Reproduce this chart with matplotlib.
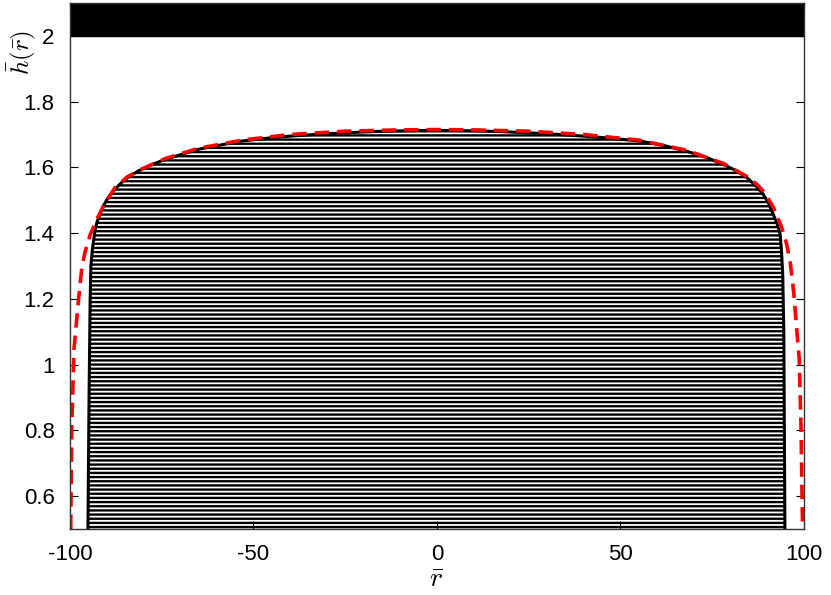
import numpy as np
import matplotlib
matplotlib.use("Agg")
import matplotlib.pyplot as plt

plt.rcParams['font.family'] = ['Liberation Sans', 'DejaVu Sans']
plt.rcParams['mathtext.fontset'] = 'cm'
plt.rcParams['axes.unicode_minus'] = False
plt.rcParams['hatch.linewidth'] = 1.7

# black solid profile
r_solid = [-95.1, -94.8, -94.5, -94.3, -93.9, -93.2, -92.6, -91.8, -90.9, -89.6,
           -87.9, -85.9, -83.8, -81.4, -78.0, -74.1, -70.0, -65.0, -59.0, -53.2,
           -46.0, -40.0, -32.0, -25.0, -17.0, -10.0, -4.0, 0.0, 4.0, 10.0,
           17.0, 25.0, 32.0, 40.0, 47.0, 55.3, 62.0, 68.0, 73.5, 78.0,
           81.5, 84.4, 86.8, 88.9, 90.4, 91.6, 92.7, 93.5, 93.9, 94.2,
           94.5, 94.8]
h_solid = [0.50, 0.90, 1.20, 1.30, 1.35, 1.407, 1.435, 1.458, 1.483, 1.508,
           1.532, 1.554, 1.573, 1.589, 1.607, 1.624, 1.638, 1.655, 1.668, 1.680,
           1.689, 1.695, 1.701, 1.705, 1.709, 1.711, 1.712, 1.712, 1.712, 1.711,
           1.709, 1.705, 1.701, 1.695, 1.689, 1.680, 1.666, 1.649, 1.630, 1.609,
           1.590, 1.569, 1.545, 1.518, 1.490, 1.458, 1.428, 1.397, 1.340, 1.276,
           1.10, 0.50]

# red dashed profile
r_dash = [-99.8, -99.5, -98.9, -97.9, -97.3, -96.7, -95.9, -94.5, -92.7, -90.5,
          -87.7, -84.5, -81.0, -74.0, -65.0, -53.0, -40.0, -25.0, -10.0, 0.0,
          10.0, 25.0, 40.0, 55.0, 68.0, 78.0, 84.5, 87.5, 89.5, 91.8,
          93.9, 95.2, 96.2, 97.2, 98.0, 98.7, 99.2, 99.6]
h_dash = [0.50, 0.815, 1.048, 1.17, 1.24, 1.30, 1.342, 1.395, 1.442, 1.49,
          1.539, 1.570, 1.592, 1.627, 1.658, 1.683, 1.700, 1.710, 1.714, 1.715,
          1.714, 1.710, 1.700, 1.683, 1.652, 1.612, 1.572, 1.545, 1.520, 1.475,
          1.418, 1.370, 1.316, 1.22, 1.109, 1.018, 0.806, 0.51]

xticks = [-100, -50, 0, 50, 100]
yticks = [0.6, 0.8, 1.0, 1.2, 1.4, 1.6, 1.8, 2.0]
ytick_labels = ['0.6', '0.8', '1', '1.2', '1.4', '1.6', '1.8', '2']

fig = plt.figure(figsize=(8.31, 5.95), dpi=100)
ax = fig.add_axes([0.0842, 0.1109, 0.8833, 0.8841])

# hatched region under the solid profile
ax.fill_between(r_solid, h_solid, 0.0, facecolor='white', edgecolor='black',
                hatch='----', linewidth=0, zorder=1)
ax.plot(r_solid, h_solid, color='black', lw=2.2, zorder=3)
ax.plot(r_dash, h_dash, color='#ff0000', lw=2.6, dashes=(4.0, 2.2), zorder=4)

# solid black band on top
ax.axhspan(2.0, 2.1, color='black', zorder=5)

ax.set_xlim(-100, 100)
ax.set_ylim(0.5, 2.1)
ax.set_xticks(xticks)
ax.set_yticks(yticks)
ax.set_yticklabels(ytick_labels)
ax.tick_params(direction='in', length=6, width=0.8, labelsize=16, pad=11,
               top=True, right=True)
for s in ax.spines.values():
    s.set_linewidth(1.0)
    s.set_color('#333333')
    s.set_zorder(6)

ax.set_xlabel(r'$\bar{r}$', fontsize=20)
ax.xaxis.set_label_coords(0.5, -0.072)
ax.set_ylabel(r'$\bar{h}(\bar{r})$', fontsize=18)
ax.yaxis.set_label_coords(-0.044, 0.905)

fig.savefig('out.png', dpi=100)
